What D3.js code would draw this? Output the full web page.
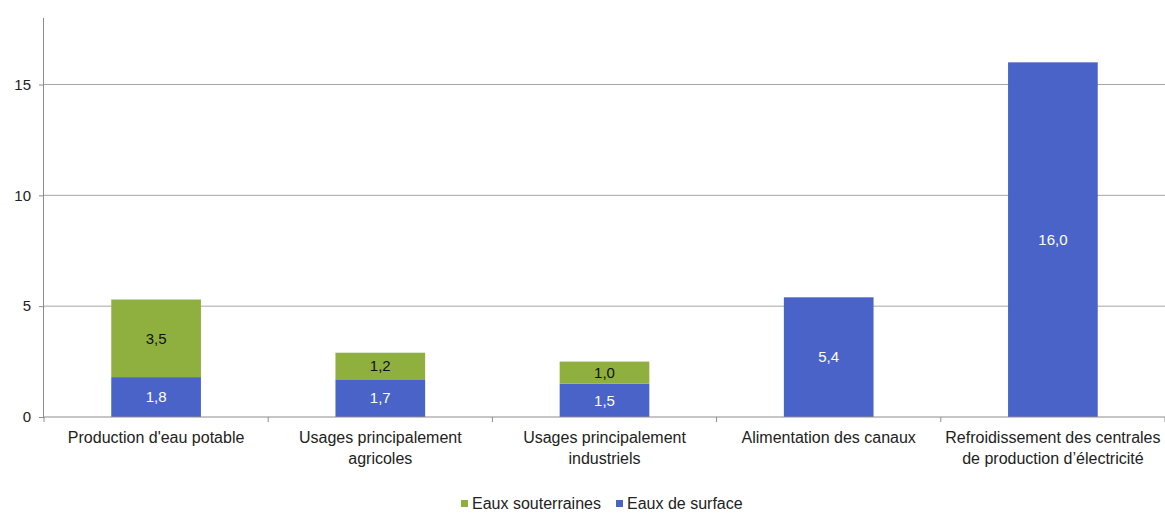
<!DOCTYPE html>
<html><head><meta charset="utf-8">
<script src="https://cdn.jsdelivr.net/npm/d3@7/dist/d3.min.js"></script>
<style>body{margin:0;background:#fff;} text{font-family:"Liberation Sans",Arial,sans-serif;}</style>
</head><body><svg id="c" width="1165" height="513"></svg>
<script>
const categories = [["Production d'eau potable"],["Usages principalement","agricoles"],["Usages principalement","industriels"],["Alimentation des canaux"],["Refroidissement des centrales","de production d\u2019électricité"]];
const surface = [1.8, 1.7, 1.5, 5.4, 16.0];
const souterraines = [3.5, 1.2, 1.0, 0, 0];
const yTicks = [0, 5, 10, 15];
const seriesNames = ["Eaux souterraines", "Eaux de surface"];
const colors = {sout: "#8fb03e", surf: "#4a63c9"};

const svg = d3.select("#c");
const m = {l: 44, r: 0, t: 18, b: 96};
const W = 1165, H = 513;
const x = d3.scaleBand().domain(d3.range(categories.length)).range([m.l, W - m.r]).paddingInner(0.6).paddingOuter(0.3);
const xb = d3.scaleBand().domain(d3.range(categories.length)).range([m.l, W - m.r]);
const y = d3.scaleLinear().domain([0, 18]).range([H - m.b, m.t]);

// gridlines
svg.append("g").selectAll("line").data(yTicks.filter(d => d > 0)).join("line")
  .attr("x1", m.l).attr("x2", W).attr("y1", d => y(d)).attr("y2", d => y(d))
  .attr("stroke", "#a6a6a6").attr("stroke-width", 1);

const fmt = v => d3.format(".1f")(v).replace(".", ",");

// bars
const g = svg.append("g");
categories.forEach((c, i) => {
  const s = surface[i], so = souterraines[i];
  g.append("rect").attr("x", x(i)).attr("width", x.bandwidth())
    .attr("y", y(s)).attr("height", y(0) - y(s)).attr("fill", colors.surf);
  g.append("text").attr("x", x(i) + x.bandwidth()/2).attr("y", (y(0) + y(s))/2).attr("dy", "0.35em")
    .attr("text-anchor", "middle").attr("fill", "#fff").attr("font-size", 15).text(fmt(s));
  if (so > 0) {
    g.append("rect").attr("x", x(i)).attr("width", x.bandwidth())
      .attr("y", y(s + so)).attr("height", y(s) - y(s + so)).attr("fill", colors.sout);
    g.append("text").attr("x", x(i) + x.bandwidth()/2).attr("y", (y(s) + y(s + so))/2).attr("dy", "0.35em")
      .attr("text-anchor", "middle").attr("fill", "#111").attr("font-size", 15).text(fmt(so));
  }
});

// y axis
const ya = svg.append("g").attr("transform", `translate(${m.l},0)`)
  .call(d3.axisLeft(y).tickValues(yTicks).tickSize(5).tickPadding(8).tickFormat(d3.format("d")));
ya.select(".domain").attr("stroke", "#8c8c8c").attr("d", `M-0.5,${y(0)}V${m.t}`);
ya.selectAll(".tick line").attr("stroke", "#8c8c8c");
ya.selectAll("text").attr("font-size", 15).attr("fill", "#222").style("font-family", "Liberation Sans, Arial, sans-serif");

// x axis
svg.append("line").attr("x1", m.l).attr("x2", W).attr("y1", y(0)).attr("y2", y(0)).attr("stroke", "#8c8c8c");
svg.append("g").selectAll("line").data(d3.range(categories.length + 1)).join("line")
  .attr("x1", d => m.l + d * xb.bandwidth()).attr("x2", d => m.l + d * xb.bandwidth())
  .attr("y1", y(0)).attr("y2", y(0) + 5).attr("stroke", "#8c8c8c");
categories.forEach((c, i) => {
  const t = svg.append("text").attr("x", xb(i) + xb.bandwidth()/2).attr("y", y(0) + 26)
    .attr("text-anchor", "middle").attr("font-size", 16).attr("fill", "#222");
  c.forEach((line, k) => t.append("tspan").attr("x", xb(i) + xb.bandwidth()/2).attr("dy", k ? 21 : 0).text(line));
});

// legend
const leg = svg.append("g").attr("transform", "translate(461,509)");
const items = [{n: seriesNames[0], c: colors.sout, dx: 0}, {n: seriesNames[1], c: colors.surf, dx: 155}];
items.forEach(it => {
  leg.append("rect").attr("x", it.dx).attr("y", -9).attr("width", 7).attr("height", 7).attr("fill", it.c);
  leg.append("text").attr("x", it.dx + 11).attr("y", 0).attr("font-size", 16).attr("fill", "#222").text(it.n);
});
</script></body></html>
